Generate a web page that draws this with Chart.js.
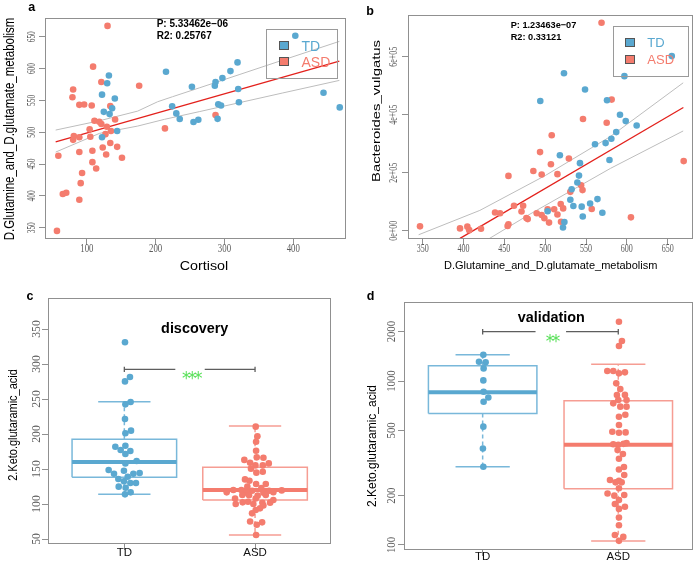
<!DOCTYPE html>
<html lang="en">
<head>
<meta charset="UTF-8">
<title>Glutamate metabolism and 2.Keto.glutaramic_acid</title>
<script src="https://cdn.jsdelivr.net/npm/chart.js"></script>
<style>
  body { margin: 0; background: #fff; }
  #fig { position: relative; width: 697px; height: 567px; overflow: hidden; background: #fff;
         font-family: "Liberation Sans", Arial, sans-serif; }
  #fig canvas { position: absolute; }
  .t { position: absolute; line-height: 1; white-space: nowrap; }
  .lg { position: absolute; box-sizing: border-box; border: 1px solid #9a9a9a; }
  .sq { position: absolute; box-sizing: border-box; border: 1px solid #555; }
</style>
</head>
<body>
<div id="fig">
  <canvas id="pa"></canvas>
  <canvas id="pb"></canvas>
  <canvas id="pc"></canvas>
  <canvas id="pd"></canvas>
</div>
<script>
// ---------- data ----------
const groups = ['TD', 'ASD'];

// a: Cortisol vs D.Glutamine_and_D.glutamate_metabolism
const aTD = [[132,589],[129.5,577],[122,559],[140.6,553],[124.6,532],[136.7,537.5],[133,528.5],[144,502],[122,492],
  [215,595],[252.7,571.5],[224,540.6],[230,529.6],[235,520.7],[255,516],[262,519.6],[287,579],[286,573],[297,585],
  [308.7,596],[319,609.7],[320,568],[321,547],[291,544],[295,542],[290,521],[403,651.6],[444,562],[467.6,539]];
const aASD = [[130,667],[109,603],[121,579],[176,573],[80,567],[79,555],[89,543],[96,543.5],[107,542],[134,541],
  [111,518],[141,520],[104,504.5],[118,516.5],[121,513],[129,508.6],[81,494],[80,488],[89,492],[105,493],[127,497],
  [135,502],[123,476],[144,477],[134,483],[108,471],[89,469],[128,465],[151,460],[58.5,463],[108,453],[113.5,443],
  [93,436],[91,420],[65,403],[70,405],[89,394],[56.5,345],[213.5,506],[287,527]];
const aFit = [[54.6,485],[467,611.8]];
const aUpper = [[54.6,503.4],[118.4,518],[173.9,533.2],[202.9,547.9],[224.6,555.8],[263.3,569.6],[321.3,590.4],[384,613],[467.1,642.7]];
const aLower = [[54.6,468.8],[118.4,498.2],[173.9,509.7],[212.6,520.2],[263.3,532.3],[321.3,546.3],[384,561.5],[467.1,581.4]];
const aXTicks = [100, 200, 300, 400];
const aYTicks = [350, 400, 450, 500, 550, 600, 650];

// b: D.Glutamine_and_D.glutamate_metabolism vs Bacteroides_vulgatus
const bTD = [[523,543000],[494,447000],[548.8,487000],[597,533000],[655,602000],[575.7,450000],[591.6,400000],
  [598.6,378000],[612,363000],[587,340000],[581,317000],[574,302000],[561,298000],[518,260000],[542.6,233000],
  [578.7,244000],[541.4,190000],[539.4,166000],[532.4,143000],[530.8,107000],[534.5,85000],[544.7,83000],
  [555,94000],[564,109000],[570,62000],[503,67000],[546,49000],[523.5,30000],[521.8,11000]];
const bASD = [[569,717000],[581.4,452000],[546.3,385000],[575.3,372000],[508,329000],[493.7,271000],[529,249000],
  [507,229000],[485.5,206000],[495.7,194000],[515,195000],[455,189000],[669.6,240000],[544,157000],[545.7,140000],
  [530.8,134000],[461.8,86000],[473,86000],[519,92000],[522,77000],[511,74000],[503,74000],[557,75000],[438.6,63000],
  [444.7,60000],[471,66000],[489.6,60000],[495.7,54000],[499,43000],[515,56000],[477,44000],[478.6,40000],
  [504.7,28000],[605,46000],[519.4,31000],[455,22000],[454,16000],[346.7,15000],[395.7,8000],[404.7,14000],
  [407,2000],[421.4,7000]];
const bFit = [[395.7,-26400],[669.2,425000]];
const bUpper = [[345,-14000],[420,70000],[500,190000],[580,325000],[669,510000]];
const bLower = [[431,-28000],[480,55000],[530,135000],[580,215000],[669,344000]];
const bXTicks = [350, 400, 450, 500, 550, 600, 650];
const bYTicks = [0, 200000, 400000, 600000];
const bYLabels = ['0e+00', '2e+05', '4e+05', '6e+05'];

// c: discovery, 2.Keto.glutaramic_acid
const cTD = [[1.005,331],[1.043,281.4],[1.005,275.2],[1.048,245.7],[1.008,242.4],[1.005,221.4],[1.051,204.8],
  [1.008,201],[0.931,181.9],[1.008,183.3],[0.972,177.1],[1.046,175.7],[1.008,171.4],[1.008,158],[1.094,161.4],
  [0.880,148.6],[0.997,147.6],[0.921,143.3],[1.069,143.3],[1.117,144.3],[0.954,135.7],[1.026,139],[0.997,132.4],
  [1.046,130],[1.089,130],[0.957,124.8],[1.010,123.3],[1.048,116.7],[1.005,113.8]];
const cASD = [[2.005,210.5],[2.018,196.7],[2.008,189],[2.008,176],[2.013,166.7],[2.064,166.2],[1.918,163],
  [1.962,159],[2.003,155.2],[2.059,155.2],[2.105,158],[1.969,150.5],[2.010,144.8],[2.059,146.2],[1.923,135.2],
  [1.957,133.3],[2.008,128.6],[2.082,128.6],[1.941,124.8],[2.048,122.9],[1.895,120],[1.977,119],[2.107,119],
  [1.783,116.7],[1.834,120],[1.936,116.2],[2.064,116.2],[2.140,117],[2.204,119.5],[1.903,113],[2.020,112],
  [2.082,113],[1.954,112.5],[1.847,108],[2.005,108],[2.140,105.7],[1.946,103.3],[2.056,101.9],[1.905,102.4],
  [1.852,100],[1.987,100],[2.064,98],[2.115,102],[2.005,91.4],[1.977,86.7],[2.038,93.8],[1.962,75],[2.054,73.8],
  [2.013,70.5],[2.008,55.7]];
// lower whisker, q1, median, q3, upper whisker
const cBoxTD = [113.8, 138.1, 160, 192.4, 246.2];
const cBoxASD = [55.7, 105.7, 120, 152.4, 211.4];
const cBracket = [288.6, 292.4, 296.2];
const cYTicks = [50, 100, 150, 200, 250, 300, 350];

// d: validation, 2.Keto.glutaramic_acid (log axis)
const dTD = [[1.005,1447],[0.973,1312],[1.022,1300],[1.007,1194],[1.005,1009],[1.007,861],[1.042,794],
  [1.007,748],[1.005,527],[1.002,388],[1.005,300]];
const dASD = [[2.005,2300],[2.027,1754],[2.005,1635],[1.919,1151],[1.963,1151],[2.049,1130],[2.005,1114],
  [1.985,968],[2.015,893],[1.990,821],[2.049,823],[2.0,766],[2.061,766],[1.963,731],[2.015,698],[2.061,698],
  [2.005,606],[2.052,623],[2.005,539],[1.956,491],[2.005,484],[2.054,486],[2.0,409],[2.061,418],[1.963,412],
  [2.039,414],[1.995,379],[2.034,359],[2.005,336],[2.042,299],[2.005,289],[2.044,267],[2.005,246],[1.939,249],
  [1.980,241],[2.025,241],[2.005,222],[1.921,206],[1.971,200],[2.044,202],[2.005,188],[1.975,178],[2.049,171],
  [2.005,166],[2.005,147],[2.005,132],[1.975,115],[2.037,112],[2.005,106]];
const dBoxTD = [300, 635, 853, 1240, 1447];
const dBoxASD = [105.8, 220.6, 409, 759, 1264];
const dBracket = [1926, 2000, 2075];
const dYTicks = [100, 200, 500, 1000, 2000];

// ---------- styling ----------
const BLUE = '#5AA8D0', RED = '#F47C6E';
const BLUE_BOX = '#79B8DA', RED_BOX = '#F69D93';
const GREY = '#909090';
const SERIF = '"Liberation Serif", serif';
const SANS = '"Liberation Sans", Arial, sans-serif';

const xy = arr => arr.map(p => ({ x: p[0], y: p[1] }));
const pts = (arr, color) => ({ data: xy(arr), backgroundColor: color, borderWidth: 0, pointRadius: 3.3, showLine: false });
const seg = (arr, color, w, dash) => ({ data: xy(arr), borderColor: color, borderWidth: w, borderDash: dash || [],
  pointRadius: 0, showLine: true, fill: false, tension: 0 });

function boxSets(x, b, edge, mid) {
  const h = 0.4, c = 0.2;
  return [
    seg([[x - h, b[2]], [x + h, b[2]]], mid, 4),
    seg([[x - h, b[1]], [x - h, b[3]], [x + h, b[3]], [x + h, b[1]], [x - h, b[1]]], edge, 1.5),
    seg([[x, b[3]], [x, b[4]]], edge, 1.5, [4, 3]),
    seg([[x, b[1]], [x, b[0]]], edge, 1.5, [4, 3]),
    seg([[x - c, b[4]], [x + c, b[4]]], edge, 1.5),
    seg([[x - c, b[0]], [x + c, b[0]]], edge, 1.5)
  ];
}
function bracketSets(br) {
  const col = '#5e5e5e';
  return [
    seg([[1, br[1]], [1.39, br[1]]], col, 1.3),
    seg([[1.615, br[1]], [2, br[1]]], col, 1.3),
    seg([[1, br[0]], [1, br[2]]], col, 1.3),
    seg([[2, br[0]], [2, br[2]]], col, 1.3)
  ];
}

// box around plot + tick labels drawn through the scales
const decor = {
  id: 'decor',
  afterDraw(chart, args, o) {
    const { ctx, chartArea: a, scales } = chart;
    ctx.save();
    ctx.strokeStyle = GREY; ctx.lineWidth = 1;
    ctx.strokeRect(a.left + 0.5, a.top + 0.5, a.right - a.left - 1, a.bottom - a.top - 1);
    ctx.textAlign = 'center'; ctx.textBaseline = 'middle';
    const draw = (s, x, y, rot, sx) => {
      ctx.save(); ctx.translate(x, y); if (rot) ctx.rotate(-Math.PI / 2); ctx.scale(sx, 1);
      ctx.fillText(s, 0, 0); ctx.restore();
    };
    const xo = o.x, yo = o.y;
    ctx.font = xo.font; ctx.fillStyle = xo.color;
    scales.x.ticks.forEach((t, i) => draw(xo.labels[i], scales.x.getPixelForValue(t.value), a.bottom + xo.off, false, xo.sx));
    ctx.font = yo.font; ctx.fillStyle = yo.color;
    scales.y.ticks.forEach((t, i) => draw(yo.labels[i], a.left - yo.off, scales.y.getPixelForValue(t.value), true, yo.sx));
    ctx.restore();
  }
};

function panel(id, rect, area, xs, ys, datasets, labels) {
  const cv = document.getElementById(id);
  cv.width = rect[2]; cv.height = rect[3];
  cv.style.left = rect[0] + 'px'; cv.style.top = rect[1] + 'px';
  const grid = { display: true, drawOnChartArea: false, drawTicks: true, tickLength: 6, tickColor: GREY, color: GREY, tickWidth: 1 };
  new Chart(cv, {
    type: 'scatter',
    data: { datasets },
    options: {
      responsive: false, animation: false, devicePixelRatio: 1, events: [],
      layout: { padding: { top: area[1] - rect[1], right: rect[0] + rect[2] - area[2], left: 0, bottom: 0 } },
      plugins: { legend: { display: false }, tooltip: { enabled: false }, decor: labels },
      scales: {
        x: { type: 'linear', position: 'bottom', min: xs.min, max: xs.max, border: { display: false }, grid,
             ticks: { display: false },
             afterBuildTicks: s => { s.ticks = xs.ticks.map(v => ({ value: v })); },
             afterFit: s => { s.height = rect[1] + rect[3] - area[3]; } },
        y: { type: ys.type || 'linear', position: 'left', min: ys.min, max: ys.max, border: { display: false }, grid,
             ticks: { display: false },
             afterBuildTicks: s => { s.ticks = ys.ticks.map(v => ({ value: v })); },
             afterFit: s => { s.width = area[0] - rect[0]; } }
      }
    },
    plugins: [decor]
  });
}

const tickLab = (labels, off, sx) => ({ labels, off, sx: sx * 11 / 12, font: '12px ' + SERIF, color: '#5c5c5c' });
const catLab = off => ({ labels: groups, off, sx: 1, font: '11.5px ' + SANS, color: '#111' });

// a
panel('pa', [0, 0, 350, 280], [45, 18, 349, 239],
  { min: 39.1, max: 476.7, ticks: aXTicks }, { min: 332.3, max: 679.4, ticks: aYTicks },
  [pts(aTD, BLUE), pts(aASD, RED), seg(aFit, '#E3211C', 1.3), seg(aUpper, '#BDBDBD', 1), seg(aLower, '#BDBDBD', 1)],
  { x: tickLab(aXTicks.map(String), 10, 0.8), y: tickLab(aYTicks.map(String), 13, 0.67) });

// b
panel('pb', [350, 0, 347, 280], [408, 15, 693, 239],
  { min: 332, max: 681, ticks: bXTicks }, { min: -28600, max: 743800, ticks: bYTicks },
  [pts(bTD, BLUE), pts(bASD, RED), seg(bFit, '#E3211C', 1.3), seg(bUpper, '#BDBDBD', 1), seg(bLower, '#BDBDBD', 1)],
  { x: tickLab(bXTicks.map(String), 10, 0.73), y: tickLab(bYLabels, 13.7, 0.72) });

// c
panel('pc', [0, 280, 350, 287], [48, 298, 331, 544],
  { min: 0.416, max: 2.581, ticks: [1, 2] }, { min: 42.9, max: 394.3, ticks: cYTicks },
  [pts(cTD, BLUE), pts(cASD, RED), ...boxSets(1, cBoxTD, BLUE_BOX, BLUE), ...boxSets(2, cBoxASD, RED_BOX, RED),
   ...bracketSets(cBracket)],
  { x: catLab(8.7), y: tickLab(cYTicks.map(String), 11, 1.06) });

// d
panel('pd', [350, 280, 347, 287], [404, 302, 693, 550],
  { min: 0.42, max: 2.551, ticks: [1, 2] }, { type: 'logarithmic', min: 93.2, max: 3035, ticks: dYTicks },
  [pts(dTD, BLUE), pts(dASD, RED), ...boxSets(1, dBoxTD, BLUE_BOX, BLUE), ...boxSets(2, dBoxASD, RED_BOX, RED),
   ...bracketSets(dBracket)],
  { x: catLab(7.3), y: tickLab(dYTicks.map(String), 12.6, 0.97) });

// ---------- text outside the data area ----------
const fig = document.getElementById('fig');
function put(text, x, y, css, tf, left) {
  const d = document.createElement('div');
  d.className = 't';
  d.textContent = text;
  d.style.cssText += css;
  d.style.left = x + 'px'; d.style.top = y + 'px';
  d.style.transform = (left ? 'translate(0,-50%) ' : 'translate(-50%,-50%) ') + (tf || '');
  if (left) d.style.transformOrigin = '0 50%';
  fig.appendChild(d);
}
function legend(x, y, w, h, rows, font) {
  const b = document.createElement('div');
  b.className = 'lg';
  b.style.cssText += `left:${x}px;top:${y}px;width:${w}px;height:${h}px;`;
  fig.appendChild(b);
  rows.forEach(r => {
    const s = document.createElement('div');
    s.className = 'sq';
    s.style.cssText += `left:${r.sx - 5}px;top:${r.y - 4.5}px;width:10px;height:9px;background:${r.color};`;
    fig.appendChild(s);
    put(r.name, r.tx, r.y, `font-size:${font}px;color:${r.color};`, '', true);
  });
}

const letter = 'font-size:12.5px;font-weight:bold;color:#000;';
put('a', 31.7, 7.3, letter); put('b', 370, 10.5, letter);
put('c', 30, 295.8, letter); put('d', 370.5, 295.8, letter);

const stat = 'font-weight:bold;color:#000;';
put('P: 5.33462e\u221206', 156.7, 24, stat + 'font-size:10px;', '', true);
put('R2: 0.25767', 156.7, 35.7, stat + 'font-size:10px;', '', true);
put('P: 1.23463e\u221207', 510.7, 26, stat + 'font-size:9.2px;', '', true);
put('R2: 0.33121', 510.7, 37.7, stat + 'font-size:9.2px;', '', true);

legend(266, 29, 72, 50, [
  { name: groups[0], color: BLUE, sx: 283.7, tx: 301.5, y: 45.7 },
  { name: groups[1], color: RED, sx: 283.7, tx: 301.5, y: 61.7 }], 14);
legend(613, 26, 76, 51, [
  { name: groups[0], color: BLUE, sx: 630, tx: 647.3, y: 42.3 },
  { name: groups[1], color: RED, sx: 630, tx: 647.3, y: 59 }], 13);

put('Cortisol', 204, 264.5, 'font-size:13px;color:#000;', 'scaleX(1.1)');
put('D.Glutamine_and_D.glutamate_metabolism', 8.5, 129, 'font-size:14px;color:#000;', 'rotate(-90deg) scaleX(0.82)');
put('D.Glutamine_and_D.glutamate_metabolism', 550.7, 264.5, 'font-size:11px;color:#000;');
put('Bacteroides_vulgatus', 376, 110.8, 'font-size:11px;color:#000;', 'rotate(-90deg) scaleX(1.35)');
put('2.Keto.glutaramic_acid', 13.3, 425, 'font-size:12px;color:#000;', 'rotate(-90deg) scaleX(0.915)');
put('2.Keto.glutaramic_acid', 371.7, 446.3, 'font-size:12px;color:#000;', 'rotate(-90deg)');

put('discovery', 194.7, 328.2, 'font-size:14.4px;font-weight:bold;color:#000;');
put('validation', 551.3, 316.5, 'font-size:14.4px;font-weight:bold;color:#000;');
put('***', 191, 378, 'font-family:"DejaVu Sans";font-size:17px;color:#58E058;letter-spacing:-2.5px;');
put('**', 551.7, 341, 'font-family:"DejaVu Sans";font-size:17px;color:#58E058;letter-spacing:-2.5px;');
</script>
</body>
</html>
